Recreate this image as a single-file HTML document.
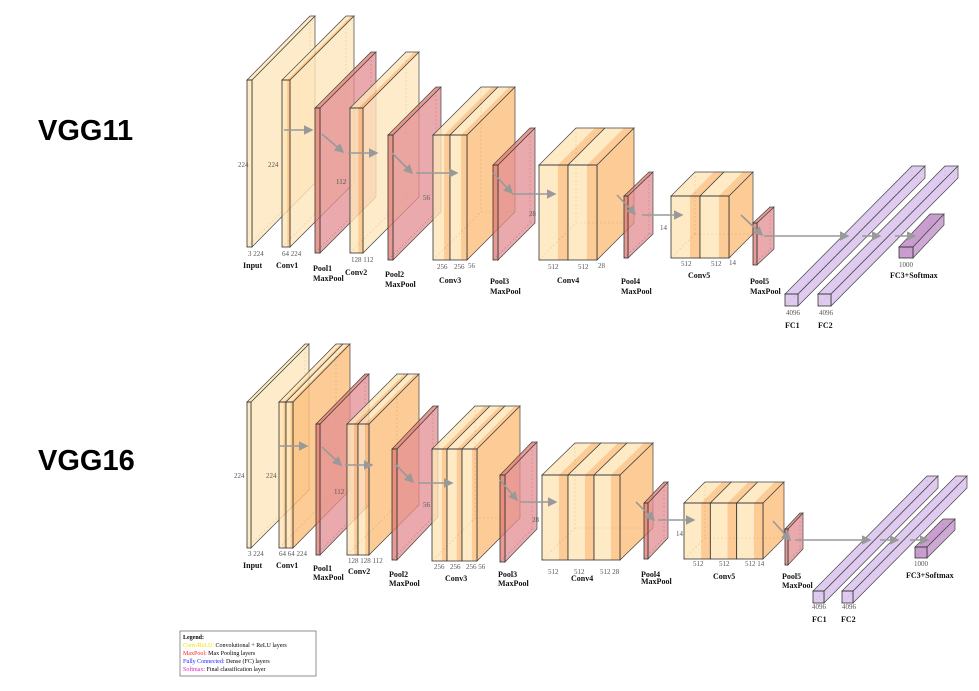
<!DOCTYPE html>
<html><head><meta charset="utf-8"><style>
html,body{margin:0;padding:0;background:#fff;}
svg{display:block;font-family:"Liberation Serif",serif;}
.num{font-size:7px;fill:#555;}
.nm{font-size:8px;fill:#111;font-weight:bold;}
</style></head><body>
<svg id="s" width="979" height="691" viewBox="0 0 979 691" xmlns="http://www.w3.org/2000/svg">
<defs><marker id="ah" markerWidth="6" markerHeight="6" refX="5" refY="3" orient="auto"><path d="M0,0 L6,3 L0,6 z" fill="#999"/></marker></defs>
<text x="38" y="140" font-family="Liberation Sans, sans-serif" font-weight="bold" font-size="29" fill="#000">VGG11</text>
<text x="38" y="470" font-family="Liberation Sans, sans-serif" font-weight="bold" font-size="29" fill="#000">VGG16</text>
<g id="g11"></g>
<g id="g16"></g>
<g>
<rect x="180" y="631" width="136" height="45" fill="#fff" stroke="#777" stroke-width="0.8"/>
<text x="183" y="639" font-size="6" font-weight="bold" fill="#000">Legend:</text>
<text x="183" y="647" font-size="6" fill="#000"><tspan fill="#f0e000">Conv/ReLU:</tspan> Convolutional + ReLU layers</text>
<text x="183" y="655" font-size="6" fill="#000"><tspan fill="#ff2020">MaxPool:</tspan> Max Pooling layers</text>
<text x="183" y="663" font-size="6" fill="#000"><tspan fill="#2020ff">Fully Connected:</tspan> Dense (FC) layers</text>
<text x="183" y="671" font-size="6" fill="#000"><tspan fill="#e020c0">Softmax:</tspan> Final classification layer</text>
</g>
</svg>
<script>
// [kind, x, y, w, h, dx, dy, sublayers]
const vgg11Layers = [
 ['in',247,80,5,167,63,64,1],['conv',282,80,8,167,64,64,1],['pool',315,108,5,145,56,56,1],
 ['conv',350,108,13,145,56,56,1],['pool',388,135,5,125,48,48,1],['conv',433,135,34,125,48,48,2],
 ['pool',493,165,5,95,37,37,1],['conv',539,165,58,95,37,37,2],['pool',624,196,4,62,25,24,1],
 ['conv',671,196,58,62,24,24,2],['pool',753,223,4,42,17,16,1],
 ['fc',785,294,13,12,127,128,1],['fc',818,294,13,12,127,128,1],['sm',899,247,14,11,31,33,1]];
const vgg16Layers = [
 ['in',247,402,4,146,58,58,1],['conv',279,402,14,146,57,58,2],['pool',316,424,4,131,49,50,1],
 ['conv',347,424,22,131,50,50,2],['pool',392,449,5,111,41,43,1],['conv',432,449,45,112,43,43,3],
 ['pool',500,475,5,87,32,33,1],['conv',542,475,78,85,33,32,3],['pool',644,503,4,56,20,21,1],
 ['conv',684,503,79,56,21,21,3],['pool',785,529,3,36,15,16,1],
 ['fc',813,591,11,12,114,115,1],['fc',842,591,11,12,114,115,1],['sm',915,547,12,11,28,28,1]];
const vgg11Arrows=[[284,130,312,130],[322,134,343,152],[348,153,377,153],[392,153,412,173],[416,173,457,173],[493,173,512,193],[512,194,555,194],[617,195,635,214],[642,215,682,215],[741,215,762,235],[764,236,848,236],[862,236,880,236],[895,236,915,236]];
const vgg16Arrows=[[279,446,307,446],[322,447,341,465],[345,465,372,465],[395,464,413,482],[418,483,452,483],[500,480,517,500],[520,502,556,502],[636,502,654,520],[658,520,694,520],[773,521,790,540],[795,540,870,540],[880,540,898,540],[910,540,928,540]];
const vgg11Nums=[[238,167,'224'],[268,167,'224'],[336,184,'112'],[423,200,'56'],[529,216,'28'],[660,230,'14'],[248,256,'3 224'],[282,256,'64 224'],[351,262,'128 112'],[437,269,'256'],[454,269,'256'],[468,268,'56'],[548,269,'512'],[578,269,'512'],[598,268,'28'],[681,266,'512'],[711,266,'512'],[729,265,'14'],[786,315,'4096'],[819,315,'4096'],[899,267,'1000']];
const vgg16Nums=[[234,478,'224'],[266,478,'224'],[334,494,'112'],[423,507,'56'],[532,522,'28'],[676,536,'14'],[248,556,'3 224'],[279,556,'64 64 224'],[348,563,'128 128 112'],[434,569,'256'],[450,569,'256'],[466,569,'256 56'],[548,574,'512'],[574,574,'512'],[600,574,'512 28'],[693,566,'512'],[719,566,'512'],[745,566,'512 14'],[812,609,'4096'],[842,609,'4096'],[914,566,'1000']];
const vgg11Names=[[243,268,'Input'],[276,268,'Conv1'],[313,271,'Pool1'],[313,281,'MaxPool'],[345,275,'Conv2'],[385,277,'Pool2'],[385,287,'MaxPool'],[439,283,'Conv3'],[490,284,'Pool3'],[490,294,'MaxPool'],[557,283,'Conv4'],[621,284,'Pool4'],[621,294,'MaxPool'],[688,278,'Conv5'],[750,284,'Pool5'],[750,294,'MaxPool'],[785,328,'FC1'],[818,328,'FC2'],[890,278,'FC3+Softmax']];
const vgg16Names=[[243,568,'Input'],[276,568,'Conv1'],[313,571,'Pool1'],[313,580,'MaxPool'],[348,574,'Conv2'],[389,577,'Pool2'],[389,586,'MaxPool'],[445,581,'Conv3'],[498,577,'Pool3'],[498,586,'MaxPool'],[571,581,'Conv4'],[641,577,'Pool4'],[641,584,'MaxPool'],[713,579,'Conv5'],[782,579,'Pool5'],[782,588,'MaxPool'],[812,622,'FC1'],[841,622,'FC2'],[906,578,'FC3+Softmax']];
const NS='http://www.w3.org/2000/svg';
function mk(p,tag,a){const e=document.createElementNS(NS,tag);for(const k in a)e.setAttribute(k,a[k]);p.appendChild(e);return e;}
function poly(p,pts,fill,op){return mk(p,'polygon',{points:pts.map(q=>q.join(',')).join(' '),fill:fill,'fill-opacity':op,stroke:'#444','stroke-width':0.7});}
function drawLayer(g,L){
 const [k,x,y,w,h,dx,dy,n]=L;
 const grp=mk(g,'g',{});
 
 
 let light='#FEE6B8',dark='#FDBE7A',side=(n>1)?'#FDBF7C':'#FEE6BC',op=0.8;
 if(k==='pool'){light='#E07A70';dark='#E07A70';side='#E38E92';op=0.75;}
 if(k==='fc'){light='#D8C2EC';dark='#D8C2EC';side='#D8C2EC';op=0.85;}
 if(k==='sm'){light='#C392C9';dark='#C392C9';side='#C8A0CF';op=0.9;}
 const dash={stroke:'#666','stroke-width':0.6,'stroke-dasharray':'2,2',fill:'none'};
 mk(grp,'line',Object.assign({x1:x+dx,y1:y-dy,x2:x+dx,y2:y+h-dy},dash));
 mk(grp,'line',Object.assign({x1:x+dx,y1:y+h-dy,x2:x+w+dx,y2:y+h-dy},dash));
 mk(grp,'line',Object.assign({x1:x,y1:y+h,x2:x+dx,y2:y+h-dy},dash));
 poly(grp,[[x+w,y],[x+w+dx,y-dy],[x+w+dx,y+h-dy],[x+w,y+h]],side,op);
 const sw=w/n;
 for(let i=0;i<n;i++){
  const sx=x+i*sw, split=(k==='conv')?0.65:1;
  const a=sx+sw*split, b=sx+sw;
  poly(grp,[[sx,y],[a,y],[a+dx,y-dy],[sx+dx,y-dy]],light,op).setAttribute('stroke','none');
  if(split<1) poly(grp,[[a,y],[b,y],[b+dx,y-dy],[a+dx,y-dy]],dark,op).setAttribute('stroke','none');
  mk(grp,'rect',{x:sx,y:y,width:sw*split,height:h,fill:light,'fill-opacity':op});
  if(split<1) mk(grp,'rect',{x:a,y:y,width:sw*(1-split),height:h,fill:dark,'fill-opacity':op});
  mk(grp,'polygon',{points:`${sx},${y} ${b},${y} ${b+dx},${y-dy} ${sx+dx},${y-dy}`,fill:'none',stroke:'#444','stroke-width':0.7});
  mk(grp,'rect',{x:sx,y:y,width:sw,height:h,fill:'none',stroke:'#333','stroke-width':0.8});
 }
}
function drawNet(id,layers,arrows,nums,names){
 const g=document.getElementById(id);
 layers.forEach(L=>drawLayer(g,L));
 arrows.forEach(a=>{const l=mk(g,'line',{x1:a[0],y1:a[1],x2:a[2],y2:a[3],stroke:'#999','stroke-width':1.6,'marker-end':'url(#ah)'});
  
  });
 nums.forEach(t=>{const e=mk(g,'text',{x:t[0],y:t[1],class:'num'});e.textContent=t[2];
  
  });
 names.forEach(t=>{const e=mk(g,'text',{x:t[0],y:t[1],class:'nm'});e.textContent=t[2];
  
  });
}
drawNet('g11',vgg11Layers,vgg11Arrows,vgg11Nums,vgg11Names);
drawNet('g16',vgg16Layers,vgg16Arrows,vgg16Nums,vgg16Names);
</script>
</body></html>
